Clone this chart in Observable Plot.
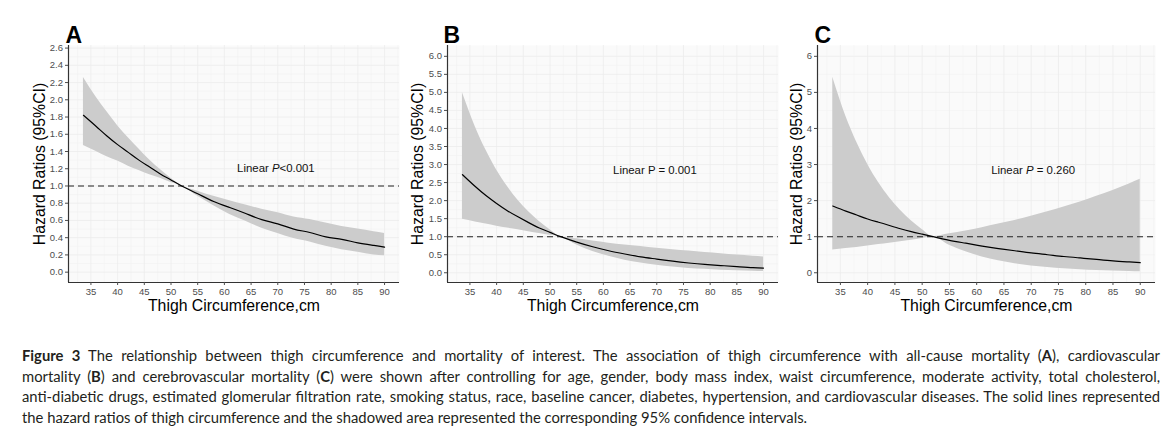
<!DOCTYPE html>
<html>
<head>
<meta charset="utf-8">
<script src="https://cdn.jsdelivr.net/npm/d3@7"></script>
<script src="https://cdn.jsdelivr.net/npm/@observablehq/plot@0.6"></script>
<style>
  body { margin: 0; background: #fff; }
  #fig { position: relative; width: 1174px; height: 437px; overflow: hidden; background: #fff; }
  .panel { position: absolute; top: 0; }
  #caption { position: absolute; left: 22px; top: 345px; width: 1138px;
    font-family: "Lato", "Open Sans", sans-serif; font-size: 14.8px; line-height: 20.6px; color: #231f20; }
  #caption .ln { text-align: justify; text-align-last: justify; white-space: nowrap; }
  #caption .ln.last { text-align: left; text-align-last: left; }
</style>
</head>
<body>
<div id="fig">
  <div id="pA" class="panel" style="left:0px"></div>
  <div id="pB" class="panel" style="left:400px"></div>
  <div id="pC" class="panel" style="left:780px"></div>
  <div id="caption"></div>
</div>
<script>
// ---------- data ----------
const thigh = [33.6,36,38,40,42,44,46,48,50,52,55,58,61,64,67,70,73,76,79,82,85,88,90];

const hrA    = [1.82,1.69,1.58,1.48,1.39,1.30,1.22,1.14,1.07,1.00,0.91,0.82,0.75,0.68,0.61,0.56,0.50,0.46,0.41,0.38,0.34,0.31,0.29];
const upperA = [2.26,2.03,1.86,1.70,1.56,1.43,1.30,1.19,1.09,1.00,0.94,0.88,0.83,0.78,0.73,0.69,0.64,0.61,0.57,0.53,0.50,0.47,0.45];
const lowerA = [1.47,1.40,1.34,1.29,1.23,1.18,1.13,1.09,1.04,1.00,0.88,0.77,0.67,0.59,0.51,0.45,0.39,0.35,0.30,0.26,0.23,0.20,0.19];

const hrB    = [2.72,2.39,2.14,1.92,1.72,1.55,1.39,1.24,1.12,1.00,0.85,0.72,0.61,0.52,0.44,0.38,0.32,0.27,0.23,0.20,0.17,0.14,0.13];
const upperB = [4.99,4.05,3.40,2.85,2.40,2.01,1.69,1.42,1.19,1.00,0.94,0.88,0.82,0.77,0.73,0.68,0.64,0.60,0.56,0.53,0.49,0.46,0.44];
const lowerB = [1.48,1.41,1.35,1.29,1.24,1.19,1.14,1.09,1.04,1.00,0.77,0.59,0.46,0.35,0.27,0.21,0.16,0.12,0.094,0.073,0.056,0.043,0.036];

const hrC    = [1.85,1.71,1.60,1.49,1.40,1.31,1.22,1.14,1.07,1.00,0.90,0.82,0.74,0.67,0.61,0.55,0.50,0.45,0.41,0.37,0.33,0.30,0.28];
const upperC = [5.42,4.34,3.62,3.01,2.50,2.08,1.73,1.44,1.20,1.00,1.08,1.16,1.25,1.35,1.45,1.57,1.69,1.82,1.96,2.12,2.28,2.46,2.59];
const lowerC = [0.63,0.67,0.70,0.74,0.78,0.82,0.86,0.90,0.95,1.00,0.76,0.58,0.44,0.33,0.25,0.19,0.145,0.11,0.084,0.064,0.048,0.037,0.030];

const xTicks  = [35,40,45,50,55,60,65,70,75,80,85,90];
const xMinor  = [32.5,37.5,42.5,47.5,52.5,57.5,62.5,67.5,72.5,77.5,82.5,87.5,92.5];
const yTicksA = [0,0.2,0.4,0.6,0.8,1.0,1.2,1.4,1.6,1.8,2.0,2.2,2.4,2.6];
const yMinorA = [0.1,0.3,0.5,0.7,0.9,1.1,1.3,1.5,1.7,1.9,2.1,2.3,2.5];
const yTicksB = [0,0.5,1.0,1.5,2.0,2.5,3.0,3.5,4.0,4.5,5.0,5.5,6.0];
const yMinorB = [0.25,0.75,1.25,1.75,2.25,2.75,3.25,3.75,4.25,4.75,5.25,5.75];
const yTicksC = [0,1,2,3,4,5,6];
const yMinorC = [0.5,1.5,2.5,3.5,4.5,5.5];

const xDomain  = [30.8, 92.8];
const yDomainA = [-0.12, 2.63];
const yDomainB = [-0.27, 6.3];
const yDomainC = [-0.27, 6.3];

const refHR = 1;
const panelLetters = ["A", "B", "C"];
const annotPre  = ["Linear ", "Linear P = 0.001", "Linear "];
const annotItal = ["P", "", "P"];
const annotPost = ["<0.001", "", " = 0.260"];
const annotX = [69.65, 69.65, 70.35];
const annotY = [1.20, 2.85, 2.85];

const xTitle = "Thigh Circumference,cm";
const yTitle = "Hazard Ratios (95%CI)";

const captionLines = [
  "<b>Figure 3</b> The relationship between thigh circumference and mortality of interest. The association of thigh circumference with all-cause mortality (<b>A</b>), cardiovascular",
  "mortality (<b>B</b>) and cerebrovascular mortality (<b>C</b>) were shown after controlling for age, gender, body mass index, waist circumference, moderate activity, total cholesterol,",
  "anti-diabetic drugs, estimated glomerular filtration rate, smoking status, race, baseline cancer, diabetes, hypertension, and cardiovascular diseases. The solid lines represented",
  "the hazard ratios of thigh circumference and the shadowed area represented the corresponding 95% confidence intervals."
];

// ---------- drawing ----------
function panel(i, hr, lo, up, yDomain, yTicks, yMinor, yFmt, width, mLeft, mRight, yTitleDx, letterDx) {
  const rows = thigh.map((x, k) => ({x, hr: hr[k], lo: lo[k], up: up[k]}));
  const ann = [{x: annotX[i], y: annotY[i], t: annotPre[i] + annotItal[i] + annotPost[i]}];
  const plot = Plot.plot({
    width, height: 320,
    marginLeft: mLeft, marginRight: mRight, marginTop: 45, marginBottom: 38,
    style: {fontFamily: "'Liberation Sans', Arial, sans-serif", background: "#fff", overflow: "visible"},
    x: {domain: xDomain},
    y: {domain: yDomain},
    marks: [
      Plot.frame({fill: "#fafafa", stroke: null}),
      Plot.gridX(xMinor, {stroke: "#f1f1f1", strokeOpacity: 1, strokeWidth: 0.5}),
      Plot.gridY(yMinor, {stroke: "#f1f1f1", strokeOpacity: 1, strokeWidth: 0.5}),
      Plot.gridX(xTicks, {stroke: "#ececec", strokeOpacity: 1, strokeWidth: 0.8}),
      Plot.gridY(yTicks, {stroke: "#ececec", strokeOpacity: 1, strokeWidth: 0.8}),
      Plot.areaY(rows, {x: "x", y1: "lo", y2: "up", fill: "#cccccc", curve: "monotone-x"}),
      Plot.ruleY([refHR], {stroke: "#222", strokeWidth: 1.1, strokeDasharray: "6,4"}),
      Plot.lineY(rows, {x: "x", y: "hr", stroke: "#000", strokeWidth: 1.2, curve: "natural"}),
      Plot.text(ann, {x: "x", y: "y", text: "t", fontSize: 11.4, fill: "#111", textAnchor: "middle"}),
      Plot.ruleX([xDomain[0]], {stroke: "#333", strokeWidth: 1.2}),
      Plot.ruleY([yDomain[0]], {stroke: "#333", strokeWidth: 1.2}),
      Plot.axisX({ticks: xTicks, tickSize: 3, tickPadding: 2.5, fontSize: 9.5, color: "#4d4d4d", label: null}),
      Plot.axisY({ticks: yTicks, tickSize: 3, tickPadding: 2.5, fontSize: 9.5, color: "#4d4d4d", label: null, tickFormat: yFmt}),
      Plot.text([xTitle], {text: d => d, frameAnchor: "bottom", dy: 23, textAnchor: "middle", lineAnchor: "middle", fontSize: 15.8, fill: "#000"}),
      Plot.text([yTitle], {text: d => d, frameAnchor: "left", dx: yTitleDx, rotate: -90, textAnchor: "middle", lineAnchor: "middle", fontSize: 15.8, fill: "#000"}),
      Plot.text([panelLetters[i]], {text: d => d, frameAnchor: "top-left", dx: letterDx, dy: -10, textAnchor: "start", lineAnchor: "middle", fontSize: 23, fontWeight: "bold", fill: "#000"})
    ]
  });
  // italicise the P in the annotation
  const full = ann[0].t;
  plot.querySelectorAll("text").forEach(t => {
    if (t.textContent === full && annotItal[i]) {
      t.textContent = "";
      const ns = "http://www.w3.org/2000/svg";
      const a = document.createElementNS(ns, "tspan"); a.textContent = annotPre[i];
      const b = document.createElementNS(ns, "tspan"); b.textContent = annotItal[i]; b.setAttribute("font-style", "italic");
      const c = document.createElementNS(ns, "tspan"); c.textContent = annotPost[i];
      t.append(a, b, c);
    }
  });
  return plot;
}

document.getElementById("pA").append(
  panel(0, hrA, lowerA, upperA, yDomainA, yTicksA, yMinorA, d3.format(".1f"), 400, 68, 1, -28.5, -3));
document.getElementById("pB").append(
  panel(1, hrB, lowerB, upperB, yDomainB, yTicksB, yMinorB, d3.format(".1f"), 380, 47, 2, -29.5, -4));
document.getElementById("pC").append(
  panel(2, hrC, lowerC, upperC, yDomainC, yTicksC, yMinorC, d3.format("d"), 394, 37, 19, -21, -3));

const cap = document.getElementById("caption");
captionLines.forEach((s, k) => {
  const d = document.createElement("div");
  d.className = "ln" + (k === captionLines.length - 1 ? " last" : "");
  d.innerHTML = s;
  cap.append(d);
});
</script>
</body>
</html>
